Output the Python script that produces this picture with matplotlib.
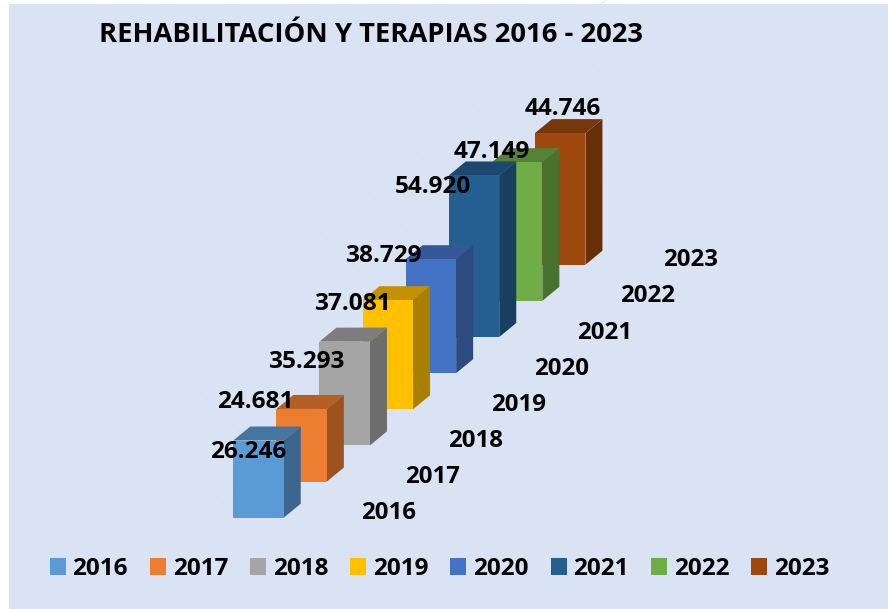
import numpy as np
import matplotlib
matplotlib.use("Agg")
import matplotlib.pyplot as plt
from matplotlib.colors import to_rgb
from matplotlib.patches import Patch, Polygon, Rectangle

years = ["2016", "2017", "2018", "2019", "2020", "2021", "2022", "2023"]
values = [26246, 24681, 35293, 37081, 38729, 54920, 47149, 44746]
value_labels = ["26.246", "24.681", "35.293", "37.081", "38.729", "54.920", "47.149", "44.746"]
colors = ["#5B9BD5", "#ED7D31", "#A5A5A5", "#FFC000", "#4472C4", "#255E91", "#70AD47", "#9E480E"]
title = "REHABILITACIÓN Y TERAPIAS 2016 - 2023"

# one category is 43.1 px, 1 px is 340 value units
PX_X = 1 / 43.1
PX_Y = 340
RISE = 36.14 * PX_Y
WIDTH = 50.5 * PX_X
DEPTH_X = 17 * PX_X
DEPTH_Y = 14 * PX_Y

# label offsets from the front top centre of each bar, in px (right, down)
label_dx = [-10.5, -46, -38, -35, -48, -41, -25, 3]
label_dy = [11, -7, 20, 4, -3, 12, -10, -24]

plt.rcParams["font.family"] = ["Open Sans", "DejaVu Sans"]
fig = plt.figure(figsize=(8.88, 6.09), dpi=100, facecolor="white")
ax = fig.add_axes([0, 0, 1, 1])
ax.set_xlim(-258.5 * PX_X, (888 - 258.5) * PX_X)
ax.set_ylim(-91.3 * PX_Y, (609 - 91.3) * PX_Y)
ax.axis("off")

# panel background
ax.add_patch(Rectangle((ax.get_xlim()[0] + 9 * PX_X, ax.get_ylim()[0]),
                       879 * PX_X, 605 * PX_Y, fc="#DAE3F3", ec="none", zorder=0))

# faint wall grid
xs = np.array([-1.7, 8.3])
for g in [17000, 37000, 57000, 77000]:
    ax.plot(xs, xs * RISE + g, color="#DEE6F4", lw=0.8, zorder=1)

for i in range(len(years) - 1, -1, -1):
    base = i * RISE
    top = base + values[i]
    left = i - WIDTH / 2
    right = i + WIDTH / 2
    c = np.array(to_rgb(colors[i]))
    ax.add_patch(Polygon([(right, base), (right + DEPTH_X, base + DEPTH_Y),
                          (right + DEPTH_X, top + DEPTH_Y), (right, top)],
                         fc=c * 0.66, ec="none", zorder=2))
    ax.add_patch(Polygon([(left, top), (right, top), (right + DEPTH_X, top + DEPTH_Y),
                          (left + DEPTH_X, top + DEPTH_Y)],
                         fc=c * 0.76, ec="none", zorder=2))
    ax.add_patch(Rectangle((left, base), WIDTH, values[i], fc=c, ec="none", zorder=2))

for i, year in enumerate(years):
    ax.text(i + label_dx[i] * PX_X, i * RISE + values[i] - label_dy[i] * PX_Y, value_labels[i],
            fontsize=17.6, fontweight="bold", ha="center", va="center", color="black", zorder=5)
    ax.text(i + 130.5 * PX_X, i * RISE + 4.5 * PX_Y, year,
            fontsize=17.3, fontweight="bold", ha="center", va="center", color="black", zorder=5)

fig.text(370.5 / 888, 1 - 35 / 609, title, fontsize=19.7, fontweight="bold",
         ha="center", va="center", color="black")

handles = [Patch(fc=c, ec="none", label=y) for c, y in zip(colors, years)]
ax.legend(handles=handles, ncol=8, loc="center", bbox_to_anchor=(439.5 / 888, 1 - 569 / 609),
          frameon=False, prop={"size": 17.5, "weight": "bold"},
          handlelength=0.66, handleheight=0.72, handletextpad=0.28, columnspacing=0.9)

fig.savefig("out.png", dpi=100)
